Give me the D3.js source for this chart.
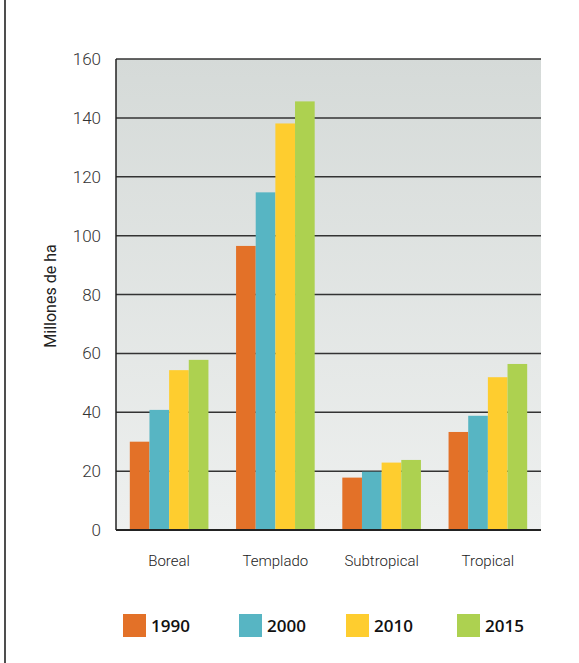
<!DOCTYPE html>
<html><head><meta charset="utf-8">
<script src="https://cdn.jsdelivr.net/npm/d3@7"></script>
<style>body{margin:0;background:#fff}svg{display:block}</style>
</head><body>
<script>
const categories = ["Boreal", "Templado", "Subtropical", "Tropical"];
const years = ["1990", "2000", "2010", "2015"];
const v1990 = [30, 96.5, 17.8, 33.3];
const v2000 = [40.8, 114.7, 19.8, 38.8];
const v2010 = [54.3, 138.1, 22.9, 51.9];
const v2015 = [57.8, 145.6, 23.8, 56.4];
const yTicks = [0, 20, 40, 60, 80, 100, 120, 140, 160];
const colors = ["#e37128", "#57b5c3", "#fecd2f", "#add150"];
const series = [v1990, v2000, v2010, v2015];

const W = 579, H = 663;
const svg = d3.select("body").append("svg").attr("width", W).attr("height", H);
const m = {left: 116, right: 541, top: 59, bottom: 530};

svg.append("line").attr("x1", 5).attr("x2", 5).attr("y1", 0).attr("y2", H)
  .attr("stroke", "#222").attr("stroke-width", 1.6);

const defs = svg.append("defs");
const g = defs.append("linearGradient").attr("id", "bg").attr("x1", 0).attr("x2", 0).attr("y1", 0).attr("y2", 1);
g.append("stop").attr("offset", 0).attr("stop-color", "#d5dad8");
g.append("stop").attr("offset", 1).attr("stop-color", "#eef0ef");

const x = d3.scaleBand().domain(categories).range([m.left, m.right]).paddingInner(0.26).paddingOuter(0.13);
const xs = d3.scaleBand().domain(years).range([0, x.bandwidth()]);
const y = d3.scaleLinear().domain([0, 160]).range([m.bottom, m.top]);

svg.append("rect").attr("x", m.left).attr("y", m.top).attr("width", m.right - m.left)
  .attr("height", m.bottom - m.top).attr("fill", "url(#bg)");

// grid
svg.append("g").selectAll("line").data(yTicks.filter(d => d > 0)).join("line")
  .attr("x1", m.left).attr("x2", m.right).attr("y1", d => y(d)).attr("y2", d => y(d))
  .attr("stroke", "#333").attr("stroke-width", 1.5);

// bars
const grp = svg.append("g").selectAll("g").data(categories).join("g")
  .attr("transform", d => `translate(${x(d)},0)`);
grp.selectAll("rect").data((c, i) => years.map((yr, j) => ({yr, v: series[j][i], j}))).join("rect")
  .attr("x", d => xs(d.yr)).attr("width", xs.bandwidth())
  .attr("y", d => y(d.v)).attr("height", d => y(0) - y(d.v))
  .attr("fill", d => colors[d.j]);

// axes lines
svg.append("line").attr("x1", m.left).attr("x2", m.left).attr("y1", m.top).attr("y2", m.bottom)
  .attr("stroke", "#222").attr("stroke-width", 1.5);
svg.append("line").attr("x1", m.left).attr("x2", m.right).attr("y1", m.bottom).attr("y2", m.bottom)
  .attr("stroke", "#222").attr("stroke-width", 1.8);

// y tick labels
svg.append("g").selectAll("text").data(yTicks).join("text")
  .attr("x", 101).attr("y", d => y(d)).attr("dy", "0.36em").attr("text-anchor", "end")
  .attr("fill", "#333").style("font-family", "Roboto, sans-serif").style("font-weight", 300)
  .style("font-size", "17px").text(d => d);

// y label
svg.append("text").attr("transform", "translate(56,296) rotate(-90)").attr("text-anchor", "middle")
  .attr("fill", "#222").style("font-family", "Roboto, sans-serif").style("font-size", "16px")
  .text("Millones de ha");

// x labels
svg.append("g").selectAll("text").data(categories).join("text")
  .attr("x", d => x(d) + x.bandwidth() / 2).attr("y", 566).attr("text-anchor", "middle")
  .attr("fill", "#222").style("font-family", "Roboto, sans-serif").style("font-weight", 300)
  .style("font-size", "15px").text(d => d);

// legend
const lx = [123, 239, 346, 457];
const lg = svg.append("g").selectAll("g").data(years).join("g")
  .attr("transform", (d, i) => `translate(${lx[i]},614)`);
lg.append("rect").attr("width", 23).attr("height", 23).attr("fill", (d, i) => colors[i]);
lg.append("text").attr("x", 28).attr("y", 18).attr("fill", "#111")
  .style("font-family", "'Open Sans', sans-serif").style("font-weight", 600).style("font-size", "17px")
  .text(d => d);
</script>
</body></html>
